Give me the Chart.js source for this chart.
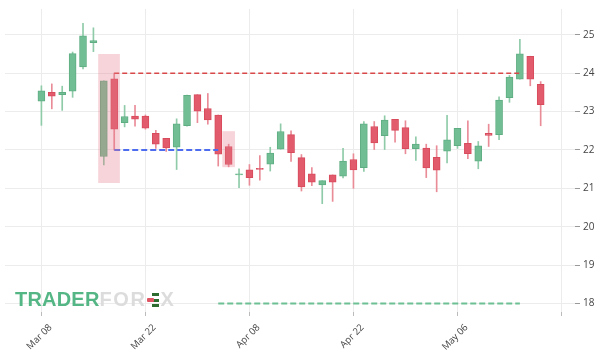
<!DOCTYPE html>
<html>
<head>
<meta charset="utf-8">
<script src="https://cdn.jsdelivr.net/npm/chart.js@4.4.0/dist/chart.umd.min.js"></script>
<style>
  html, body { margin: 0; padding: 0; background: #fff; }
  #wrap { position: relative; width: 600px; height: 352px; }
  #logo {
    position: absolute; left: 15px; top: 288px;
    font-family: "Liberation Sans", Arial, sans-serif; font-weight: bold; font-size: 20px;
    letter-spacing: 0.2px; white-space: nowrap;
  }
  #logo .g { color: #55b685; }
  #logo .l { color: #dcdcdc; letter-spacing: 1.6px; }
  #logo .ico { display: inline-block; position: relative; width: 12px; height: 14px; margin: 0 2px 0 0; vertical-align: -1px; }
  #logo .ico i { position: absolute; left: 5px; width: 7px; height: 3px; background: #2e6b2e; }
  #logo .ico b { position: absolute; left: 0; top: 5px; width: 7px; height: 4px; background: #e05563; border-radius: 1px; }
</style>
</head>
<body>
<div id="wrap">
  <canvas id="chart" width="600" height="352"></canvas>
  <div id="logo"><span class="g">TRADER</span><span class="l">FOR</span><span class="ico"><i style="top:0"></i><i style="top:5.5px"></i><i style="top:11px"></i><b></b></span><span class="l">X</span></div>
</div>
<script>
// trading days shown on the x axis (only every 10th gets a label)
const dates = [
  "Mar 08", "Mar 09", "Mar 10", "Mar 11", "Mar 12", "Mar 15", "Mar 16", "Mar 17", "Mar 18", "Mar 19",
  "Mar 22", "Mar 23", "Mar 24", "Mar 25", "Mar 26", "Mar 29", "Mar 30", "Mar 31", "Apr 01", "Apr 07",
  "Apr 08", "Apr 09", "Apr 12", "Apr 13", "Apr 14", "Apr 15", "Apr 16", "Apr 19", "Apr 20", "Apr 21",
  "Apr 22", "Apr 23", "Apr 26", "Apr 27", "Apr 28", "Apr 29", "Apr 30", "May 03", "May 04", "May 05",
  "May 06", "May 07", "May 10", "May 11", "May 12", "May 13", "May 14", "May 17", "May 18"
];

const opens = [
  23.27, 23.50, 23.44, 23.53, 24.16, 24.79, 21.83, 23.85, 22.71, 22.88,
  22.88, 22.43, 22.30, 22.07, 22.63, 23.44, 23.08, 22.91, 22.09, 21.35,
  21.48, 21.52, 21.63, 22.02, 22.40, 21.80, 21.38, 21.09, 21.35, 21.32,
  21.75, 21.54, 22.61, 22.37, 22.80, 22.58, 22.03, 22.05, 21.81, 21.97,
  22.11, 22.17, 21.71, 22.43, 22.40, 23.36, 23.84, 24.44, 23.71
];
const highs = [
  23.67, 23.72, 23.66, 24.55, 25.30, 25.18, 23.80, 24.00, 23.16, 23.16,
  22.91, 22.51, 22.30, 22.81, 23.43, 23.44, 23.47, 22.91, 22.15, 21.51,
  21.62, 21.85, 22.07, 22.68, 22.50, 21.88, 21.54, 21.20, 21.35, 22.04,
  21.90, 22.74, 22.74, 22.89, 22.80, 22.76, 22.34, 22.15, 22.11, 22.90,
  22.56, 22.76, 22.22, 22.67, 23.38, 23.94, 24.88, 24.44, 23.78
];
const lows = [
  22.64, 23.07, 23.03, 23.37, 24.11, 24.56, 21.61, 22.00, 22.60, 22.62,
  22.54, 22.04, 21.96, 21.49, 22.62, 22.71, 22.67, 21.58, 21.56, 21.02,
  21.08, 21.21, 21.45, 22.02, 21.70, 20.93, 21.07, 20.60, 20.66, 21.27,
  21.00, 21.44, 22.01, 22.01, 22.20, 21.90, 21.73, 21.28, 20.91, 21.66,
  22.04, 21.77, 21.51, 22.09, 22.27, 23.24, 23.84, 23.67, 22.63
];
const closes = [
  23.54, 23.40, 23.50, 24.51, 24.97, 24.85, 23.80, 22.54, 22.87, 22.80,
  22.57, 22.15, 22.05, 22.68, 23.42, 23.01, 22.78, 21.89, 21.62, 21.38,
  21.28, 21.49, 21.92, 22.48, 21.93, 21.04, 21.16, 21.20, 21.16, 21.71,
  21.48, 22.68, 22.18, 22.78, 22.51, 22.03, 22.15, 21.53, 21.47, 22.26,
  22.56, 21.90, 22.11, 22.38, 23.30, 23.90, 24.50, 23.84, 23.18
];

// drawn levels: [start index, end index, price]
const resistance = [7, 46, 24.0];
const support = [7, 17, 22.0];
const lowerLevel = [17, 46, 18.0];

// highlighted zones: centre index, low, high
const zoneA = [6.5, 21.15, 24.49];
const zoneB = [18, 21.56, 22.48];

const xTicks = [0, 10, 20, 30, 40, 50];
const yTicks = [18, 19, 20, 21, 22, 23, 24, 25];

const GREEN = "#72be94", GREEN_WICK = "#8fcba9";
const RED = "#e15b6c", RED_WICK = "#ea8c98";

const up = opens.map((o, i) => closes[i] >= o);
const bodies = opens.map((o, i) => ({ x: i, y: [o, closes[i]] }));
const wicks = lows.map((l, i) => ({ x: i, y: [l, highs[i]] }));

function level(arr) {
  return [{ x: arr[0], y: arr[2] }, { x: arr[1], y: arr[2] }];
}

const ctx = document.getElementById("chart").getContext("2d");
new Chart(ctx, {
  type: "bar",
  data: {
    datasets: [
      {
        type: "bar", data: [{ x: zoneA[0], y: [zoneA[1], zoneA[2]] }],
        backgroundColor: "rgba(226,120,138,0.32)", barThickness: 21, grouped: false, order: 0
      },
      {
        type: "bar", data: [{ x: zoneB[0], y: [zoneB[1], zoneB[2]] }],
        backgroundColor: "rgba(226,120,138,0.32)", barThickness: 12, grouped: false, order: 0
      },
      {
        type: "line", data: level(resistance), borderColor: "#d94848", borderWidth: 1.5,
        borderDash: [5, 3], pointRadius: 0, order: 1
      },
      {
        type: "line", data: level(support), borderColor: "#4d6cf0", borderWidth: 2,
        borderDash: [6, 3], pointRadius: 0, order: 1
      },
      {
        type: "line", data: level(lowerLevel), borderColor: "#6cc093", borderWidth: 2,
        borderDash: [6, 3], pointRadius: 0, order: 1
      },
      {
        type: "bar", data: bodies,
        backgroundColor: up.map(u => u ? GREEN : RED),
        borderColor: up.map(u => u ? "#5fae83" : "#d84b5d"),
        borderWidth: 1, borderSkipped: false,
        barThickness: 7, minBarLength: 1, grouped: false, order: 2
      },
      {
        type: "bar", data: wicks,
        backgroundColor: up.map(u => u ? GREEN_WICK : RED_WICK),
        barThickness: 1, grouped: false, order: 3
      }
    ]
  },
  options: {
    responsive: false,
    animation: false,
    layout: { padding: { left: 5, top: 5 } },
    plugins: { legend: { display: false }, tooltip: { enabled: false } },
    scales: {
      x: {
        type: "linear",
        offset: false,
        min: -3.5,
        max: 51.3,
        afterBuildTicks: (axis) => { axis.ticks = xTicks.map(v => ({ value: v })); },
        afterFit: (axis) => { axis.height = 40; },
        border: { display: false },
        grid: { offset: false, color: "#ececec", tickColor: "#bbb", tickLength: 4 },
        ticks: {
          maxRotation: 45, minRotation: 45, padding: 6, labelOffset: 9,
          color: "#444", font: { family: "Open Sans", size: 9.5 },
          callback: (v) => dates[v] || ""
        }
      },
      y: {
        position: "right",
        min: 17.78,
        max: 25.67,
        afterBuildTicks: (axis) => { axis.ticks = yTicks.map(v => ({ value: v })); },
        afterFit: (axis) => { axis.width = 25; },
        border: { display: false },
        grid: { color: "#ececec", tickColor: "#999", tickLength: 5 },
        ticks: { color: "#444", padding: 3, font: { family: "Open Sans", size: 10 } }
      }
    }
  }
});
</script>
</body>
</html>
